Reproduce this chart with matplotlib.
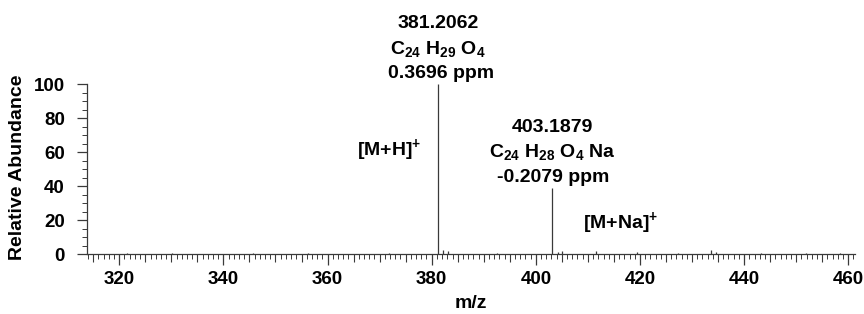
import matplotlib
matplotlib.use("Agg")
import matplotlib.pyplot as plt
from matplotlib.ticker import MultipleLocator

plt.rcParams['font.family'] = ['Liberation Sans', 'DejaVu Sans']
plt.rcParams['font.weight'] = 'bold'
plt.rcParams['mathtext.fontset'] = 'custom'
plt.rcParams['mathtext.rm'] = 'Liberation Sans:bold'
plt.rcParams['mathtext.it'] = 'Liberation Sans:bold'
plt.rcParams['mathtext.bf'] = 'Liberation Sans:bold'
plt.rcParams['mathtext.default'] = 'rm'

# Data: peak m/z and relative abundance
mz = [321.5, 330.2, 345.7, 356.3, 371.8, 381.2062, 382.21, 383.2, 392.6,
      403.1879, 404.19, 405.1, 411.6, 419.4, 427.3, 433.6, 434.6, 443.2, 451.8, 458.4]
intensity = [0.4, 0.5, 0.4, 0.5, 0.4, 100, 2.5, 1.5, 0.5,
             39, 1.0, 1.5, 2.0, 1.2, 0.6, 2.2, 1.2, 0.5, 0.6, 0.5]

x_ticks = [320, 340, 360, 380, 400, 420, 440, 460]
y_ticks = [0, 20, 40, 60, 80, 100]

peak1_label = ["381.2062", "C$_{24}$ H$_{29}$ O$_{4}$", "0.3696 ppm"]
peak2_label = ["403.1879", "C$_{24}$ H$_{28}$ O$_{4}$ Na", "-0.2079 ppm"]
ion1 = "[M+H]$^{+}$"
ion2 = "[M+Na]$^{+}$"

fig = plt.figure(figsize=(8.64, 3.14), dpi=100)
ax = fig.add_axes([0.1007, 0.191, 0.8889, 0.541])
col = '#3a3a3a'
ax.vlines(mz, 0, intensity, color=col, linewidth=0.9)
ax.set_xlim(313.8, 461.3)
ax.set_ylim(0, 100)

for s in ['top', 'right']:
    ax.spines[s].set_visible(False)
for s in ['left', 'bottom']:
    ax.spines[s].set_color(col)
    ax.spines[s].set_linewidth(0.9)

fs = 14
ax.set_xticks(x_ticks)
ax.set_yticks(y_ticks)
ax.xaxis.set_minor_locator(MultipleLocator(1))
ax.yaxis.set_minor_locator(MultipleLocator(5))
ax.tick_params(axis='x', which='major', length=8, width=0.9, color=col, labelsize=13.5, pad=4.5)
ax.tick_params(axis='x', which='minor', length=3.5, width=0.7, color=col)
ax.tick_params(axis='y', which='major', length=7, width=0.9, color=col, labelsize=13.5, pad=9)
ax.tick_params(axis='y', which='minor', length=3.5, width=0.7, color=col)

# medium ticks every 5
sec = ax.secondary_xaxis(0)
sec.spines['bottom'].set_visible(False)
sec.set_xticks([v for v in range(315, 461, 5) if v % 20 != 0])
sec.set_xticklabels([])
sec.tick_params(axis='x', which='major', length=6, width=0.8, color=col)
sec.xaxis.set_minor_locator(matplotlib.ticker.NullLocator())

ax.set_xlabel("m/z", fontsize=fs, fontweight='bold', labelpad=5)
ax.set_ylabel("Relative Abundance", fontsize=fs, fontweight='bold')
ax.yaxis.set_label_coords(-0.079, 0.51)

# peak annotations
for i, t in enumerate(peak1_label):
    ax.text(mz[5] + (0.5 if i == 2 else 0), 135.5 - i * 14.7, t, ha='center', va='center',
            fontsize=fs, fontweight='bold', clip_on=False)
for i, t in enumerate(peak2_label):
    ax.text(mz[9] + (0.2 if i == 2 else 0), 74.5 - i * 14.7, t, ha='center', va='center',
            fontsize=fs, fontweight='bold', clip_on=False)
ax.text(371.9, 61, ion1, ha='center', va='center', fontsize=fs, fontweight='bold')
ax.text(416.3, 18.5, ion2, ha='center', va='center', fontsize=fs, fontweight='bold')

fig.savefig("out.png", dpi=100)
